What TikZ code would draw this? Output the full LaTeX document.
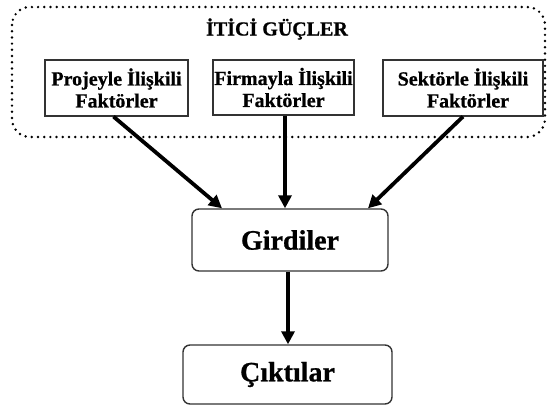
\documentclass[tikz,border=0pt]{standalone}
\usepackage{fontspec}
\setmainfont{Liberation Serif}[BoldFeatures={FakeBold=0.8}]
\usetikzlibrary{arrows.meta,calc}
\begin{document}
\begin{tikzpicture}[x=1pt,y=-1pt,
  factor/.style={draw=black!80,line width=1.2pt,fill=white,align=center,
    inner sep=0pt,font=\fontsize{20}{22}\selectfont\bfseries},
  stage/.style={draw=black!80,line width=1.4pt,rounded corners=7pt,fill=white,
    inner sep=0pt,font=\fontsize{28}{30}\selectfont\bfseries},
  group/.style={line width=2.7pt,dash pattern=on 0pt off 6.2pt,line cap=round,
    rounded corners=18pt},
  flow/.style={line width=3.8pt,-{Triangle[length=13pt,width=13pt]}}]
  \useasboundingbox (0,0) rectangle (548,407);

  % group of driving forces
  \draw[group] (12,7) rectangle (545,137);
  \node[font=\fontsize{20}{22}\selectfont\bfseries] (title) at (277,29) {İTİCİ GÜÇLER};

  % factor boxes
  \node[factor,minimum width=143pt,minimum height=56pt] (b1) at (116.5,88)
    {Projeyle İlişkili\\Faktörler};
  \node[factor,minimum width=141pt,minimum height=55pt] (b2) at (283.5,87.5)
    {Firmayla İlişkili\\Faktörler};
  \node[factor,minimum width=160pt,minimum height=56pt] (b3) at (463,88)
    {Sektörle İlişkili\\\hspace*{10pt}Faktörler};

  % inputs and outputs
  \node[stage,minimum width=196pt,minimum height=62pt] (g) at (290,240) {Girdiler};
  \node[stage,minimum width=209pt,minimum height=59pt] (c) at (287.5,374.5) {Çıktılar};

  % connectors
  \draw[flow] ($(b1.south)+(-3,0)$) -- ($(g.north)+(-68,0)$);
  \draw[flow] ($(b2.south)+(1.5,0)$) -- ($(g.north)+(-5,0)$);
  \draw[flow] (b3.south) -- ($(g.north)+(78,0)$);
  \draw[flow] ($(g.south)+(-2,0)$) -- ($(g.south |- c.north)+(-2,0)$);
\end{tikzpicture}
\end{document}
